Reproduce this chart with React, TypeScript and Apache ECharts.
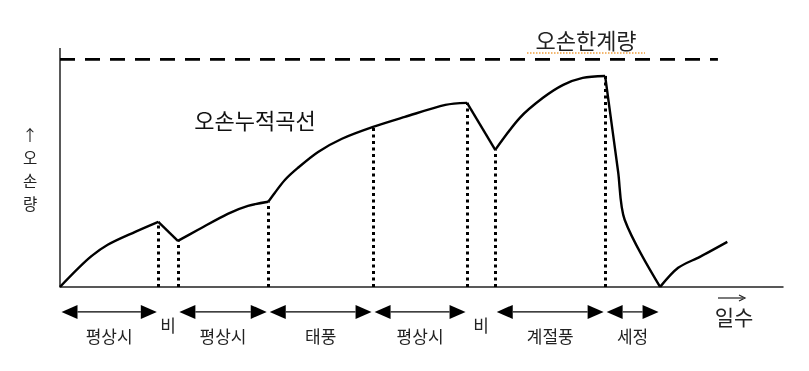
import React, { useEffect, useRef } from "react";
import * as echarts from "echarts";

// Accumulated contamination curve (days vs. amount)
const curveX = [0, 3.9, 6.6, 10.4, 13.6, 16.3, 19.1, 23.2, 26.0, 28.8, 29.7, 31.1, 32.9, 35.7, 39.0, 43.3, 47.7, 53.3, 56.3, 60.2, 63.6, 66.8, 69.6, 72.3, 75.4, 77.2, 78.1, 83.0, 85.5, 88.5, 92.3];
const curveY = [0, 12.3, 18.5, 24.2, 28.6, 20.2, 25.1, 32.1, 35.6, 37.4, 41.3, 47.0, 52.3, 59.3, 65.1, 70.3, 74.7, 80.0, 80.9, 60.2, 74.3, 83.1, 88.8, 91.9, 92.7, 50.5, 29.5, 0, 8.4, 13.2, 19.8];

// Corners of the curve (where the trend changes sharply)
const cornerX = [13.6, 16.3, 28.8, 56.3, 60.2, 75.4, 83.0];

// Contamination limit
const limitValue = 100;
const limitEnd = 91;

// Periods below the axis
const periodLabels = ["평상시", "비", "평상시", "태풍", "평상시", "비", "계절풍", "세정"];
const periodStart = [0, 13.6, 16.3, 28.8, 43.3, 56.3, 60.2, 75.4];
const periodEnd = [13.6, 16.3, 28.8, 43.3, 56.3, 60.2, 75.4, 83.0];
const periodArrow = [true, false, true, true, true, false, true, true];

// Dotted boundaries
const boundaries = [13.6, 16.3, 28.8, 43.3, 56.3, 60.2, 75.4];

// Vertical y-axis title, one character per row
const yTitleChars = ["↑", "오", "손", "량"];

const FONT = "'Noto Sans CJK KR', 'Noto Sans', sans-serif";
const ARROW_Y = -11;
const HEAD = 16;

function curveAt(x: number): number {
  for (let i = 0; i < curveX.length - 1; i++) {
    if (x >= curveX[i] && x <= curveX[i + 1]) {
      const t = curveX[i + 1] === curveX[i] ? 0 : (x - curveX[i]) / (curveX[i + 1] - curveX[i]);
      return curveY[i] + t * (curveY[i + 1] - curveY[i]);
    }
  }
  return 0;
}

function curveSegments(): number[][][] {
  const segs: number[][][] = [];
  let cur: number[][] = [];
  curveX.forEach((x, i) => {
    cur.push([x, curveY[i]]);
    if (cornerX.indexOf(x) >= 0 && i > 0 && i < curveX.length - 1) {
      segs.push(cur);
      cur = [[x, curveY[i]]];
    }
  });
  if (cur.length > 1) segs.push(cur);
  return segs;
}

export default function App() {
  const ref = useRef<HTMLDivElement>(null);

  useEffect(() => {
    if (!ref.current) return;
    const chart = echarts.init(ref.current, null, { renderer: "svg" });

    const segSeries = curveSegments().map((seg, k) => ({
      name: "curve" + k,
      type: "line",
      silent: true,
      symbol: "none",
      smooth: 0.3,
      data: seg,
      lineStyle: { color: "#000", width: 2.4 },
    }));

    const yTitle = yTitleChars.map((ch, i) => ({
      type: "text",
      x: 30,
      y: 133.5 + i * 23,
      style: {
        text: ch,
        align: "center",
        verticalAlign: "middle",
        fontSize: 15.5,
        fontFamily: FONT,
        fill: "#222",
      },
    }));

    const option: any = {
      animation: false,
      grid: { left: 60, right: 26, top: 48, bottom: 4.5 },
      xAxis: {
        type: "value",
        min: 0,
        max: 100,
        axisLine: { show: true, onZero: true, lineStyle: { color: "#222", width: 1.5 } },
        axisTick: { show: false },
        axisLabel: { show: false },
        splitLine: { show: false },
      },
      yAxis: {
        type: "value",
        min: -35,
        max: 105,
        axisLine: { show: false },
        axisTick: { show: false },
        axisLabel: { show: false },
        splitLine: { show: false },
      },
      series: [
        {
          name: "yaxis",
          type: "line",
          silent: true,
          symbol: "none",
          data: [
            [0, 0],
            [0, 105],
          ],
          lineStyle: { color: "#222", width: 1.5 },
        },
        {
          name: "limit",
          type: "line",
          silent: true,
          symbol: "none",
          data: [
            [0, limitValue],
            [limitEnd, limitValue],
          ],
          lineStyle: { color: "#000", width: 2.6, type: [15, 10] },
        },
        {
          name: "boundaries",
          type: "line",
          silent: true,
          symbol: "none",
          data: [],
          markLine: {
            silent: true,
            symbol: "none",
            label: { show: false },
            lineStyle: { color: "#000", width: 3, type: [3, 3.5] },
            data: boundaries.map((b) => [{ coord: [b, 0] }, { coord: [b, curveAt(b)] }]),
          },
        },
        ...segSeries,
        {
          name: "periods",
          type: "custom",
          silent: true,
          data: periodStart.map((s, i) => [s, periodEnd[i]]),
          renderItem: (params: any, api: any) => {
            const i = params.dataIndex;
            const s = api.coord([api.value(0), ARROW_Y]);
            const e = api.coord([api.value(1), ARROW_Y]);
            const y = s[1];
            const children: any[] = [];
            const has = periodArrow[i];
            if (has) {
              const x1 = s[0] + 1.5;
              const x2 = e[0] - 1.5;
              children.push({
                type: "line",
                shape: { x1: x1 + HEAD, y1: y, x2: x2 - HEAD, y2: y },
                style: { stroke: "#000", lineWidth: 1.2 },
              });
              children.push({
                type: "polygon",
                shape: { points: [[x1, y], [x1 + HEAD, y - 7], [x1 + HEAD, y + 7]] },
                style: { fill: "#000" },
              });
              children.push({
                type: "polygon",
                shape: { points: [[x2, y], [x2 - HEAD, y - 7], [x2 - HEAD, y + 7]] },
                style: { fill: "#000" },
              });
            }
            children.push({
              type: "text",
              x: (s[0] + e[0]) / 2,
              y: y + (has ? 24 : 13),
              style: {
                text: periodLabels[i],
                align: "center",
                verticalAlign: "middle",
                fontSize: 17,
                fontFamily: FONT,
                fill: "#222",
              },
            });
            return { type: "group", children };
          },
        },
      ],
      graphic: [
        {
          type: "text",
          x: 255,
          y: 119,
          style: { text: "오손누적곡선", align: "center", verticalAlign: "middle", fontSize: 22, fontFamily: FONT, fill: "#111" },
        },
        {
          type: "text",
          x: 586,
          y: 39,
          style: { text: "오손한계량", align: "center", verticalAlign: "middle", fontSize: 22, fontFamily: FONT, fill: "#222" },
        },
        {
          type: "line",
          shape: { x1: 527, y1: 53, x2: 645, y2: 53 },
          style: { stroke: "#f0a040", lineWidth: 1.5, lineDash: [1.5, 1.5] },
        },
        ...yTitle,
        {
          type: "text",
          x: 734,
          y: 316,
          style: { text: "일수", align: "center", verticalAlign: "middle", fontSize: 21, fontFamily: FONT, fill: "#222" },
        },
        {
          type: "line",
          shape: { x1: 718, y1: 298, x2: 743, y2: 298 },
          style: { stroke: "#222", lineWidth: 1.2 },
        },
        {
          type: "polyline",
          shape: { points: [[739, 295], [745, 298], [739, 301]] },
          style: { stroke: "#222", lineWidth: 1.2, fill: null },
        },
      ],
    };

    chart.setOption(option);
    return () => chart.dispose();
  }, []);

  return <div ref={ref} style={{ position: "fixed", left: 0, top: 0, width: 809, height: 371 }} />;
}
